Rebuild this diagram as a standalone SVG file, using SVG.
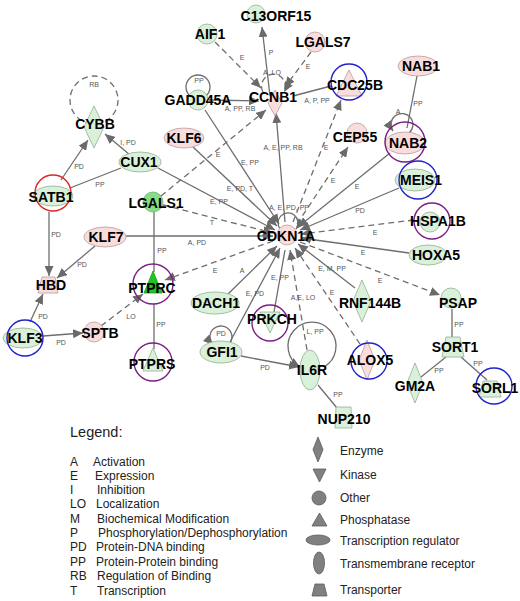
<svg xmlns="http://www.w3.org/2000/svg" width="520" height="601" viewBox="0 0 520 601">
<defs>
<marker id="ah" markerUnits="userSpaceOnUse" markerWidth="11" markerHeight="9" refX="10" refY="4.5" orient="auto"><path d="M0,0 L10,4.5 L0,9 z" fill="#6a6a6a"/></marker>
<style>
.e{stroke:#6e6e6e;stroke-width:1.3;fill:none}
.d{stroke-dasharray:6 4}
.a{marker-end:url(#ah)}
.l{font-family:"Liberation Sans",Arial,sans-serif;font-size:7px;fill:#555;text-anchor:middle}
.t{font-family:"Liberation Sans",Arial,sans-serif;font-size:14px;font-weight:bold;fill:#000;text-anchor:middle}
.g{fill:#d9f1d9;stroke:#94ad94;stroke-width:0.8}
.p{fill:#f9dddd;stroke:#b69c9c;stroke-width:0.8}
.bg{fill:#86dd86;stroke:#6fb06f;stroke-width:0.8}
.rc{fill:none;stroke:#e02424;stroke-width:1.4}
.bc{fill:none;stroke:#2222cc;stroke-width:1.4}
.pc{fill:none;stroke:#7a1f86;stroke-width:1.4}
.lg{font-family:"Liberation Sans",Arial,sans-serif;font-size:12px;fill:#222}
.lh{font-family:"Liberation Sans",Arial,sans-serif;font-size:14.5px;fill:#222}
.ls{fill:#808080;stroke:#5a5a5a;stroke-width:0.8}
</style>
</defs>
<rect width="520" height="601" fill="#fff"/>
<g id="connectors">
<path class="e d a" d="M215,42 L261,88"/>
<path class="e a" d="M270,96 L262,27"/>
<path class="e d a" d="M311,52 L285,87"/>
<path class="e d a" d="M263,92 A12,12 0 1 1 284,92"/>
<path class="e a" d="M209,100 L259,101"/>
<path class="e" d="M331,86 L293,96"/>
<path class="e d a" d="M161,196 L266,110"/>
<path class="e a" d="M285,222 L276,113"/>
<path class="e d a" d="M293,222 L341,100"/>
<path class="e d a" d="M297,224 L348,147"/>
<path class="e" d="M417,76 L407,128"/>
<path class="e a" d="M409,133 A11,11 0 1 0 393,131"/>
<path class="e a" d="M390,153 L298,227"/>
<path class="e a" d="M399,188 L300,230"/>
<path class="e d a" d="M414,220 L301,234"/>
<path class="e a" d="M409,253 L301,238"/>
<path class="e d a" d="M300,242 L440,295"/>
<path class="e a" d="M355,288 L298,244"/>
<path class="e d a" d="M360,344 L295,248"/>
<path class="e d a" d="M307,350 L290,250"/>
<path class="e" d="M285,250 L274,312"/>
<path class="e a" d="M230,342 L280,248"/>
<path class="e a" d="M228,294 L277,246"/>
<path class="e d a" d="M273,241 L165,280"/>
<path class="e a" d="M126,236 L273,236"/>
<path class="e d a" d="M163,205 L273,233"/>
<path class="e a" d="M158,168 L275,230"/>
<path class="e a" d="M193,147 L277,226"/>
<path class="e a" d="M205,110 L279,224"/>
<path class="e a" d="M281,230 A10,10 0 1 1 296,229"/>
<circle class="e d" cx="94" cy="100" r="24"/>
<circle class="e" cx="198" cy="87" r="12"/>
<path class="e a" d="M130,155 L105,134"/>
<path class="e a" d="M61,180 L88,140"/>
<path class="e" d="M70,188 L121,168"/>
<path class="e a" d="M49,212 L49,276"/>
<path class="e a" d="M95,246 L57,278"/>
<path class="e a" d="M30,322 L43,294"/>
<path class="e a" d="M43,336 L83,333"/>
<path class="e d a" d="M101,326 L143,294"/>
<path class="e" d="M154,212 L154,272"/>
<path class="e" d="M154,304 L154,349"/>
<path class="e a" d="M226.5,346.5 A11,11 0 1 0 213.2,344.8"/>
<path class="e a" d="M241,356 L299,367"/>
<path class="e" d="M318,385 L337,408"/>
<path class="e a" d="M324,367 A24,24 0 1 0 300,367"/>
<path class="e" d="M452,309 L452,338"/>
<path class="e" d="M446,357 L421,377"/>
<path class="e" d="M461,357 L487,380"/>
<g id="edge-labels">
<text class="l" x="271" y="55">P</text>
<text class="l" x="242" y="60">E</text>
<text class="l" x="308" y="69">E</text>
<text class="l" x="272" y="75">A, LO</text>
<text class="l" x="199" y="83">PP</text>
<text class="l" x="240" y="111">A, PP, RB</text>
<text class="l" x="317" y="103">A, P, PP</text>
<text class="l" x="418" y="106">PP</text>
<text class="l" x="398" y="114">A</text>
<text class="l" x="283" y="150">A, E, PP, RB</text>
<text class="l" x="326" y="150">E</text>
<text class="l" x="218" y="157">E</text>
<text class="l" x="250" y="165">E, PP</text>
<text class="l" x="333" y="183">E</text>
<text class="l" x="357" y="189">E</text>
<text class="l" x="240" y="191">E, PD, T</text>
<text class="l" x="219" y="204">E, PP</text>
<text class="l" x="289" y="210">A, E, PD, PP</text>
<text class="l" x="360" y="213">PD</text>
<text class="l" x="212" y="225">T</text>
<text class="l" x="375" y="235">E</text>
<text class="l" x="197" y="245">A, PD</text>
<text class="l" x="363" y="255">E</text>
<text class="l" x="332" y="271">E, M, PP</text>
<text class="l" x="215" y="273">E</text>
<text class="l" x="242" y="273">A</text>
<text class="l" x="280" y="280">E, PP</text>
<text class="l" x="380" y="283">E</text>
<text class="l" x="255" y="296">E, PD</text>
<text class="l" x="303" y="300">A,E, LO</text>
<text class="l" x="332" y="295">E</text>
<text class="l" x="94" y="87">RB</text>
<text class="l" x="128" y="145">I, PD</text>
<text class="l" x="79" y="169">PD</text>
<text class="l" x="100" y="187">PP</text>
<text class="l" x="56" y="237">PD</text>
<text class="l" x="82" y="267">PD</text>
<text class="l" x="43" y="319">PD</text>
<text class="l" x="61" y="345">PD</text>
<text class="l" x="131" y="319">LO</text>
<text class="l" x="162" y="253">PP</text>
<text class="l" x="161" y="327">PP</text>
<text class="l" x="221" y="336">PD</text>
<text class="l" x="265" y="370">PD</text>
<text class="l" x="315" y="334">L, PP</text>
<text class="l" x="338" y="397">PP</text>
<text class="l" x="459" y="327">PP</text>
<text class="l" x="439" y="373">PP</text>
<text class="l" x="478" y="366">PP</text>
</g>
</g>
<g id="CDKN1A"><circle class="p" cx="287" cy="235" r="10"/><text class="t" x="286" y="241">CDKN1A</text></g>
<g id="C13ORF15"><circle class="g" cx="256" cy="14" r="9"/><text class="t" x="276" y="21">C13ORF15</text></g>
<g id="AIF1"><circle class="g" cx="207" cy="34" r="10"/><text class="t" x="210" y="39">AIF1</text></g>
<g id="LGALS7"><circle class="p" cx="315" cy="42" r="10"/><text class="t" x="323" y="47">LGALS7</text></g>
<g id="CCNB1"><path class="p" d="M275,90 L282,103 L275,116 L268,103 z"/><text class="t" x="273" y="102">CCNB1</text></g>
<g id="GADD45A"><circle class="g" cx="198" cy="100" r="10"/><text class="t" x="198" y="105">GADD45A</text></g>
<g id="CDC25B"><path class="p" d="M349,70 L362,96 L336,96 z"/><circle class="bc" cx="349" cy="82" r="18"/><text class="t" x="355" y="90">CDC25B</text></g>
<g id="NAB1"><ellipse class="p" cx="418" cy="66" rx="20" ry="10"/><text class="t" x="421" y="71">NAB1</text></g>
<g id="NAB2"><ellipse class="p" cx="405" cy="143" rx="20" ry="11"/><circle class="pc" cx="405" cy="142" r="20"/><text class="t" x="408" y="148">NAB2</text></g>
<g id="CEP55"><circle class="p" cx="357" cy="133" r="10"/><text class="t" x="355" y="142">CEP55</text></g>
<g id="KLF6"><ellipse class="p" cx="184" cy="138" rx="20" ry="10"/><text class="t" x="184" y="143">KLF6</text></g>
<g id="CYBB"><path class="g" d="M94,106 L104,127 L94,148 L84,127 z"/><text class="t" x="95" y="129">CYBB</text></g>
<g id="CUX1"><ellipse class="g" cx="140" cy="162" rx="21" ry="10"/><text class="t" x="139" y="167">CUX1</text></g>
<g id="SATB1"><ellipse class="g" cx="53" cy="196" rx="20" ry="10"/><circle class="rc" cx="53" cy="193" r="18"/><text class="t" x="51" y="202">SATB1</text></g>
<g id="LGALS1"><circle class="bg" cx="153" cy="202" r="10"/><text class="t" x="156" y="208">LGALS1</text></g>
<g id="KLF7"><ellipse class="p" cx="105" cy="237" rx="21" ry="10"/><text class="t" x="106" y="242">KLF7</text></g>
<g id="HBD"><path class="p" d="M42,277 L55,277 L58,293 L38,293 z"/><text class="t" x="51" y="290">HBD</text></g>
<g id="PTPRC"><path d="M153,271 L162,293 L144,293 z" fill="#22c422" stroke="#1a9a1a" stroke-width="0.8"/><circle class="pc" cx="153" cy="284" r="20"/><text class="t" x="152" y="293">PTPRC</text></g>
<g id="KLF3"><ellipse class="g" cx="23" cy="338" rx="20" ry="10"/><circle class="bc" cx="25" cy="338" r="18"/><text class="t" x="25" y="343">KLF3</text></g>
<g id="SPTB"><circle class="p" cx="94" cy="332" r="10"/><text class="t" x="100" y="338">SPTB</text></g>
<g id="PTPRS"><path class="g" d="M153,348 L163,371 L143,371 z"/><circle class="pc" cx="153" cy="362" r="19"/><text class="t" x="152" y="369">PTPRS</text></g>
<g id="DACH1"><ellipse class="g" cx="215" cy="303" rx="24" ry="11"/><text class="t" x="216" y="308">DACH1</text></g>
<g id="GFI1"><ellipse class="g" cx="221" cy="352" rx="21" ry="11"/><text class="t" x="222" y="357">GFI1</text></g>
<g id="PRKCH"><path class="g" d="M260,312 L280,312 L270,333 z"/><circle class="pc" cx="270" cy="323" r="18"/><text class="t" x="272" y="324">PRKCH</text></g>
<g id="IL6R"><ellipse class="g" cx="310" cy="370" rx="10" ry="20"/><text class="t" x="312" y="375">IL6R</text></g>
<g id="NUP210"><path class="g" d="M336,407 L351,407 L352,428 L335,428 z"/><text class="t" x="344" y="424">NUP210</text></g>
<g id="RNF144B"><path class="g" d="M362,280 L371,301 L362,322 L353,301 z"/><text class="t" x="370" y="308">RNF144B</text></g>
<g id="ALOX5"><path class="p" d="M367,340 L375,360 L367,380 L359,360 z"/><circle class="bc" cx="369" cy="361" r="18"/><text class="t" x="370" y="365">ALOX5</text></g>
<g id="PSAP"><circle class="g" cx="451" cy="298" r="10"/><text class="t" x="458" y="308">PSAP</text></g>
<g id="HSPA1B"><circle class="g" cx="430" cy="222" r="10"/><circle class="pc" cx="432" cy="221" r="18"/><text class="t" x="438" y="226">HSPA1B</text></g>
<g id="HOXA5"><ellipse class="g" cx="428" cy="255" rx="19" ry="10"/><text class="t" x="436" y="260">HOXA5</text></g>
<g id="MEIS1"><ellipse class="g" cx="415" cy="180" rx="20" ry="11"/><circle class="bc" cx="418" cy="180" r="19"/><text class="t" x="421" y="185">MEIS1</text></g>
<g id="SORT1"><path class="g" d="M446,337 L460,337 L464,357 L442,357 z"/><text class="t" x="455" y="352">SORT1</text></g>
<g id="GM2A"><path class="g" d="M415,363 L423,383 L415,403 L407,383 z"/><text class="t" x="415" y="391">GM2A</text></g>
<g id="SORL1"><path class="g" d="M483,381 L497,381 L501,397 L479,397 z"/><circle class="bc" cx="494" cy="386" r="18"/><text class="t" x="495" y="393">SORL1</text></g>
<g id="legend">
<text class="lh" x="70" y="437">Legend:</text>
<text class="lg" x="70" y="465.5">A</text><text class="lg" x="93" y="465.5">Activation</text>
<text class="lg" x="70" y="479.5">E</text><text class="lg" x="95" y="479.5">Expression</text>
<text class="lg" x="70" y="493.5">I</text><text class="lg" x="97" y="493.5">Inhibition</text>
<text class="lg" x="70" y="508">LO</text><text class="lg" x="96" y="508">Localization</text>
<text class="lg" x="70" y="522.5">M</text><text class="lg" x="97" y="522.5">Biochemical Modification</text>
<text class="lg" x="70" y="537">P</text><text class="lg" x="98" y="537">Phosphorylation/Dephosphorylation</text>
<text class="lg" x="70" y="551">PD</text><text class="lg" x="96" y="551">Protein-DNA binding</text>
<text class="lg" x="70" y="566">PP</text><text class="lg" x="96" y="566">Protein-Protein binding</text>
<text class="lg" x="70" y="580">RB</text><text class="lg" x="97" y="580">Regulation of Binding</text>
<text class="lg" x="70" y="595">T</text><text class="lg" x="97" y="595">Transcription</text>
<path class="ls" d="M318,437 L323,449.5 L318,462 L313,449.5 z"/><text class="lg" x="340" y="455">Enzyme</text>
<path class="ls" d="M313,469 L326,469 L319.5,482 z"/><text class="lg" x="340" y="479">Kinase</text>
<circle class="ls" cx="319" cy="498" r="7"/><text class="lg" x="340" y="502">Other</text>
<path class="ls" d="M319.5,513 L327,526 L312,526 z"/><text class="lg" x="340" y="524">Phosphatase</text>
<ellipse class="ls" cx="318" cy="540" rx="12" ry="5"/><text class="lg" x="340" y="545">Transcription regulator</text>
<ellipse class="ls" cx="319" cy="563" rx="5.5" ry="11"/><text class="lg" x="340" y="568">Transmembrane receptor</text>
<path class="ls" d="M315,584 L324,584 L327,596 L312,596 z"/><text class="lg" x="340" y="594">Transporter</text>
</g>
</svg>
